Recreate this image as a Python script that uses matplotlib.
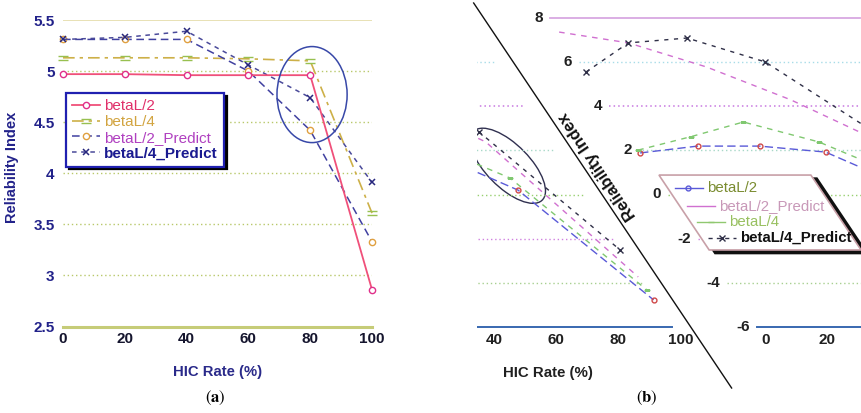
import numpy as np
import matplotlib
matplotlib.use("Agg")
import matplotlib.pyplot as plt
from matplotlib.transforms import Affine2D, IdentityTransform
from matplotlib.path import Path
from matplotlib.patches import Ellipse, Polygon

plt.rcParams['font.family'] = ['Liberation Sans', 'DejaVu Sans']
plt.rcParams['mathtext.fontset'] = 'stix'

# ---------------------------------------------------------------- data
hic_rate = [0, 20, 40, 60, 80, 100]
x_ticks = [0, 20, 40, 60, 80, 100]

# (a) reliability index vs HIC rate
a_beta_l2 = [4.97, 4.97, 4.96, 4.96, 4.96, 2.86]
a_beta_l4 = [5.13, 5.13, 5.13, 5.12, 5.10, 3.61]
a_beta_l2_pred = [5.31, 5.31, 5.31, 5.00, 4.42, 3.33]
a_beta_l4_pred = [5.31, 5.33, 5.39, 5.06, 4.74, 3.91]
a_y_ticks = [2.5, 3, 3.5, 4, 4.5, 5, 5.5]
a_y_labels = ['2.5', '3', '3.5', '4', '4.5', '5', '5.5']

# (b) reliability index vs HIC rate
b_beta_l2 = [1.88, 2.19, 2.19, 1.92, 0.20, -4.77]
b_beta_l2_pred = [7.35, 6.86, 5.77, 4.29, 2.38, -3.73]
b_beta_l4 = [2.01, 2.62, 3.28, 2.38, 0.75, -4.32]
b_beta_l4_pred = [5.54, 6.86, 7.08, 6.00, 2.83, -2.51]
b_y_ticks = [-6, -4, -2, 0, 2, 4, 6, 8]

series_names = ['betaL/2', 'betaL/4', 'betaL/2_Predict', 'betaL/4_Predict']

# ---------------------------------------------------------------- figure
FW, FH = 861, 413
fig = plt.figure(figsize=(FW / 100, FH / 100), dpi=100)

NAVY = '#22228a'

# ================================================================ panel (a)
ax = fig.add_axes([63 / FW, (FH - 326.5) / FH, 309 / FW, 306.5 / FH])
ax.set_xlim(0, 100)
ax.set_ylim(2.5, 5.5)
for s in ax.spines.values():
    s.set_visible(False)
ax.tick_params(length=0)
ax.tick_params(axis='y', pad=6)
ax.tick_params(axis='x', pad=4)
ax.set_xticks(x_ticks)
ax.set_xticklabels([str(v) for v in x_ticks], fontsize=11, fontweight='bold',
                   color='#15152e')
ax.set_yticks(a_y_ticks)
ax.set_yticklabels(a_y_labels, fontsize=11, fontweight='bold', color=NAVY)

for yv in a_y_ticks:
    if yv == 5.5:
        ax.axhline(yv, color='#e4dca8', lw=1.2, zorder=0)
    elif yv == 2.5:
        ax.axhline(yv, color='#c6cc78', lw=2.2, zorder=0, clip_on=False)
    else:
        ax.axhline(yv, color='#b8c86a', lw=1.0, ls=(0, (1, 2)), zorder=0)

eq_marker = Path([(-1, 0.4), (1, 0.4), (-1, -0.4), (1, -0.4)],
                 [Path.MOVETO, Path.LINETO, Path.MOVETO, Path.LINETO])

ax.plot(hic_rate, a_beta_l2, color='#f0507a', lw=1.3, marker='o', ms=4.5,
        mfc='white', mec='#e0308a', label=series_names[0], clip_on=False, zorder=4)
ax.plot(hic_rate, a_beta_l4, color='#cdb048', lw=1.2, ls=(0, (7, 3, 2, 3)),
        marker=eq_marker, ms=7, mec='#98c050', mew=1.0,
        label=series_names[1], clip_on=False, zorder=3)
ax.plot(hic_rate, a_beta_l2_pred, color='#4040a0', lw=1.1, ls=(0, (5, 3)),
        marker='o', ms=4.5, mfc='white', mec='#e0a040',
        label=series_names[2], clip_on=False, zorder=3)
ax.plot(hic_rate, a_beta_l4_pred, color='#4a4a9a', lw=1.1, ls=(0, (3, 3)),
        marker='x', ms=5, mec='#28287e', mew=1.1,
        label=series_names[3], clip_on=False, zorder=3)

ax.add_patch(Ellipse((80.6, 4.77), 22.7, 0.94, fill=False, ec='#3848a8',
                     lw=1.1, zorder=5))

leg = ax.legend(loc='upper left', bbox_to_anchor=(0.01, 0.762), borderaxespad=0,
                frameon=True, fancybox=False, framealpha=1, edgecolor='#2020b0',
                shadow={'color': 'black', 'alpha': 1.0, 'ox': 2, 'oy': -2},
                fontsize=11, handlelength=1.8, labelspacing=0.12,
                borderpad=0.4, handletextpad=0.3)
leg.get_frame().set_linewidth(1.6)
for t, c in zip(leg.get_texts(), ['#e0306a', '#d2a440', '#b040c0', '#1a1a90']):
    t.set_color(c)
leg.get_texts()[3].set_fontweight('bold')

fig.text(12 / FW, 1 - 167 / FH, 'Reliability Index', rotation=90, ha='center',
         va='center', fontsize=10.5, fontweight='bold', color=NAVY)
fig.text(218 / FW, 1 - 372 / FH, 'HIC Rate (%)', ha='center', va='center',
         fontsize=10.7, fontweight='bold', color='#2a2a8a')

# ================================================================ panel (b)
# chart laid out in an unsheared frame, then slanted row by row and
# wrapped around the panel width
axb = fig.add_axes([0, 0, 1, 1], zorder=-1)
X_SCALE, Y_SCALE, Y_ZERO = 3.1, 22.1, 218.5
axb.set_xlim(0, FW / X_SCALE)
axb.set_ylim(-Y_ZERO / Y_SCALE, (FH - Y_ZERO) / Y_SCALE)
axb.axis('off')

SHEAR = 0.67
OFFSET = 66 + 471.65 + SHEAR * FH
WRAP = 395
LEFT_EDGE = 477


def skew(k):
    return axb.transData + Affine2D(np.array([[1.0, -SHEAR, OFFSET - k * WRAP],
                                              [0.0, 1.0, 0.0],
                                              [0.0, 0.0, 1.0]]))


def seam_x(py):
    return 471.65 + SHEAR * (FH - py)


clip_right = Path([(seam_x(-50), -50), (seam_x(500), 500), (900, 500), (900, -50),
                   (seam_x(-50), -50)], closed=True)
clip_left = Path([(LEFT_EDGE, -50), (LEFT_EDGE, 500), (seam_x(500), 500),
                  (seam_x(-50), -50), (LEFT_EDGE, -50)], closed=True)
clips = {0: clip_right, 1: clip_left}


def wrapped(draw):
    for k in (0, 1):
        arts = draw(skew(k))
        if not isinstance(arts, (list, tuple)):
            arts = [arts]
        for a in arts:
            a.set_clip_path(clips[k], IdentityTransform())


def wrapped_text(x, y, s, **kw):
    for k in (0, 1):
        px, py = skew(k).transform((x, y))
        inside = (px >= seam_x(py) and px <= FW) if k == 0 else \
                 (LEFT_EDGE <= px < seam_x(py))
        if inside:
            axb.text(x, y, s, transform=skew(k), clip_on=False, **kw)
            return


# grid
b_grid_style = {
    8: dict(color='#d8a8e2', lw=1.3, ls='-'),
    6: dict(color='#a8dce8', lw=1.0, ls=(0, (1, 2))),
    4: dict(color='#c878e0', lw=1.1, ls=(0, (1, 2))),
    2: dict(color='#a8d8c8', lw=1.0, ls=(0, (1, 2))),
    0: dict(color='#98d070', lw=1.0, ls=(0, (1, 2))),
    -2: dict(color='#d080e0', lw=1.0, ls=(0, (1, 2))),
    -4: dict(color='#a8d090', lw=1.0, ls=(0, (1, 2))),
    -6: dict(color='#3868b0', lw=1.4, ls='-'),
}
for yv in b_y_ticks:
    st = b_grid_style[yv]
    wrapped(lambda T, yv=yv, st=st: axb.plot([0, 100], [yv, yv], transform=T, **st))

# border of the slanted chart
axb.plot([-66 / X_SCALE] * 2, [(FH - Y_ZERO - 3) / Y_SCALE, -(Y_ZERO - 25) / Y_SCALE],
         transform=skew(0), color='#111111', lw=1.0, clip_on=False)

# series
wrapped(lambda T: axb.plot(hic_rate, b_beta_l2, transform=T, color='#5a5ad8',
                           lw=1.0, ls=(0, (6, 3)), marker='o', ms=3.5,
                           mfc='none', mec='#d04848'))
wrapped(lambda T: axb.plot(hic_rate, b_beta_l2_pred, transform=T, color='#d070d0',
                           lw=1.0, ls=(0, (4, 4))))
wrapped(lambda T: axb.plot(hic_rate, b_beta_l4, transform=T, color='#80c870',
                           lw=1.0, ls=(0, (4, 4)), marker='_', ms=4))
wrapped(lambda T: axb.plot(hic_rate, b_beta_l4_pred, transform=T, color='#303048',
                           lw=1.0, ls=(0, (3, 4)), marker='x', ms=4.5, mew=1.0))

wrapped(lambda T: axb.add_patch(Ellipse((82, 1.3), 18, 3.4, fill=False,
                                        ec='#303050', lw=1.0, transform=T)))

# tick labels
for yv in b_y_ticks:
    wrapped_text(-2.2, yv, str(yv), ha='right', va='center', fontsize=11,
                 fontweight='bold', color='#202020')
for xv in x_ticks:
    wrapped_text(xv, -6.58, str(xv), ha='center', va='center', fontsize=11,
                 fontweight='bold', color='#202020')
wrapped_text(50, -8.08, 'HIC Rate (%)', ha='center', va='center', fontsize=10.8,
             fontweight='bold', color='#202020')
wrapped_text(-16.45, 1.29, 'Reliability Index', ha='center', va='center',
             rotation=124, fontsize=12, fontweight='bold', color='#111111')

# legend box of panel (b)
lx0, lx1, ly0, ly1 = 1.3, 50.3, -2.51, 0.88
T0 = skew(0)
axb.add_patch(Polygon([(lx0 + 1.2, ly1 - 0.15), (lx1 + 1.2, ly1 - 0.15),
                       (lx1 + 1.2, ly0 - 0.15), (lx0 + 1.2, ly0 - 0.15)],
                      closed=True, fc='#101010', ec='#101010', lw=1.5,
                      transform=T0, clip_on=False, zorder=5))
axb.add_patch(Polygon([(lx0, ly1), (lx1, ly1), (lx1, ly0), (lx0, ly0)], closed=True,
                      fc='white', ec='#c8a0a8', lw=1.2, transform=T0,
                      clip_on=False, zorder=6))
b_leg_names = ['betaL/2', 'betaL/2_Predict', 'betaL/4', 'betaL/4_Predict']
b_leg_rows = [0.29, -0.52, -1.24, -1.97]
b_leg_style = [dict(color='#5a5ad8', ls='-', marker='o', ms=3.5, mfc='none'),
               dict(color='#d070d0', ls='-', marker=None),
               dict(color='#90c870', ls='-', marker='_', ms=4),
               dict(color='#303048', ls=(0, (3, 3)), marker='x', ms=4.5)]
b_leg_text = ['#7a8c30', '#c898b8', '#98c060', '#101010']
for name, yy, st, tc in zip(b_leg_names, b_leg_rows, b_leg_style, b_leg_text):
    axb.plot([3.5, 12.6], [yy, yy], transform=T0, lw=1.0, clip_on=False,
             zorder=7, color=st['color'], ls=st['ls'])
    if st['marker']:
        axb.plot([8.0], [yy], transform=T0, clip_on=False, zorder=7, lw=0,
                 marker=st['marker'], ms=st['ms'], mfc=st.get('mfc', st['color']),
                 mec=st['color'])
    axb.text(13.9, yy, name, transform=T0, ha='left', va='center', fontsize=10.8,
             color=tc, fontweight='bold' if name.endswith('4_Predict') else 'normal',
             zorder=8, clip_on=False)

# captions
fig.text(215 / FW, 1 - 398 / FH, r'$(\mathbf{a})$', ha='center', va='center',
         fontsize=12, color='black')
fig.text(647 / FW, 1 - 398 / FH, r'$(\mathbf{b})$', ha='center', va='center',
         fontsize=12, color='black')

fig.savefig('out.png', dpi=100)
